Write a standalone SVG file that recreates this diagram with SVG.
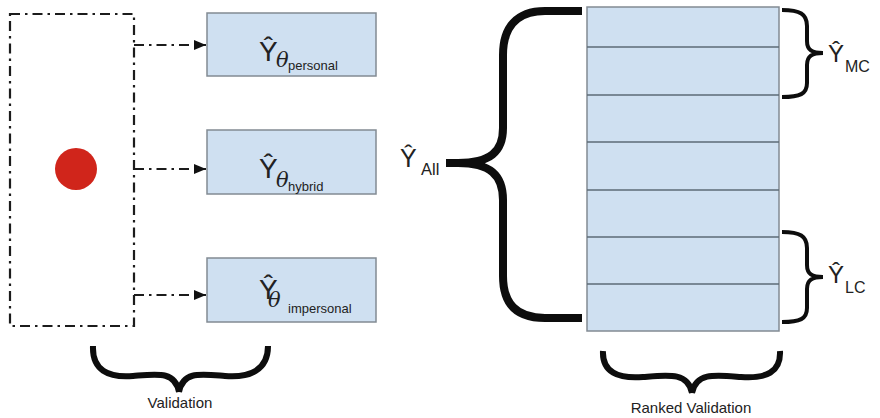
<svg xmlns="http://www.w3.org/2000/svg" width="880" height="418" viewBox="0 0 880 418">
  <style>
    .dashdot { fill: none; stroke: #1c1c1c; stroke-width: 2.2; stroke-dasharray: 10 5 2.5 5; }
    .box { fill: #cfe0f1; stroke: #828b93; stroke-width: 1.5; }
    .row { stroke: #5d6b76; stroke-width: 1.5; }
    .brace { fill: none; stroke: #0d0d0d; stroke-linecap: butt; stroke-linejoin: round; }
    .sans { font-family: "Liberation Sans", Arial, sans-serif; fill: #222; }
    .theta { font-family: "DejaVu Serif", "Liberation Serif", serif; font-style: italic; fill: #222; font-size: 21px; }
    .hat { font-size: 28px; }
    .sub { font-size: 13px; }
    .caption { font-size: 15px; }
  </style>
  <defs>
    <marker id="arrow" viewBox="0 0 12 10" refX="12" refY="5" markerWidth="12" markerHeight="10" markerUnits="userSpaceOnUse" orient="auto">
      <path d="M0,0 L12,5 L0,10 Z" fill="#111"/>
    </marker>
  </defs>

  <rect width="880" height="418" fill="#ffffff"/>

  <!-- validation pool -->
  <g id="pool">
    <rect class="dashdot" x="10" y="14" width="124" height="312"/>
    <circle cx="76" cy="169" r="21" fill="#d0251b"/>
  </g>

  <!-- connectors -->
  <g id="connectors">
    <line class="dashdot" x1="134" y1="45" x2="206" y2="45" marker-end="url(#arrow)"/>
    <line class="dashdot" x1="134" y1="169" x2="206" y2="169" marker-end="url(#arrow)"/>
    <line class="dashdot" x1="134" y1="295" x2="206" y2="295" marker-end="url(#arrow)"/>
  </g>

  <!-- prediction boxes -->
  <g id="personal">
    <rect class="box" x="207" y="13" width="169" height="63"/>
    <text class="sans hat" x="259" y="61">Ŷ</text>
    <text class="theta" x="276" y="67">θ</text>
    <text class="sans sub" x="288" y="70">personal</text>
  </g>
  <g id="hybrid">
    <rect class="box" x="207" y="130" width="169" height="64"/>
    <text class="sans hat" x="259" y="178">Ŷ</text>
    <text class="theta" x="276" y="187">θ</text>
    <text class="sans sub" x="288" y="191">hybrid</text>
  </g>
  <g id="impersonal">
    <rect class="box" x="207" y="258" width="169" height="64"/>
    <text class="sans hat" x="259" y="299">Ŷ</text>
    <text class="theta" x="268" y="307">θ</text>
    <text class="sans sub" x="288" y="313">impersonal</text>
  </g>

  <!-- brace under the pool -->
  <g id="validation">
    <path class="brace" stroke-width="6" d="M93,346 C92,370 108,378 133,376 C158,374 175,371 179,392 M179,392 C183,371 200,374 225,376 C250,378 268,370 268,346"/>
    <text class="sans caption" x="180" y="408" text-anchor="middle">Validation</text>
  </g>

  <!-- ranked stack -->
  <g id="ranked">
    <rect class="box" x="587" y="7" width="192" height="324"/>
    <line class="row" x1="587" y1="47" x2="779" y2="47"/>
    <line class="row" x1="587" y1="95" x2="779" y2="95"/>
    <line class="row" x1="587" y1="142" x2="779" y2="142"/>
    <line class="row" x1="587" y1="190" x2="779" y2="190"/>
    <line class="row" x1="587" y1="237" x2="779" y2="237"/>
    <line class="row" x1="587" y1="284" x2="779" y2="284"/>
  </g>

  <!-- brace over the whole stack -->
  <g id="all">
    <path class="brace" stroke-width="8" d="M582,11 H545 C516,11 503,28 503,55 V128 C503,152 490,163 458,163 H446 M446,163 H458 C490,163 503,175 503,200 V276 C503,303 516,318 545,318 H582"/>
    <text class="sans" x="400" y="167" font-size="25">Ŷ</text>
    <text class="sans" x="421" y="175" font-size="16.5">All</text>
  </g>

  <!-- most confident -->
  <g id="mc">
    <path class="brace" stroke-width="4" d="M782,10 C800,10 807,14 807,26 V41 C807,50 812,53 823,53 M823,53 C812,53 807,56 807,65 V83 C807,94 800,97 782,97"/>
    <text class="sans" x="828" y="62" font-size="24">Ŷ</text>
    <text class="sans" x="845" y="72" font-size="16">MC</text>
  </g>

  <!-- least confident -->
  <g id="lc">
    <path class="brace" stroke-width="4" d="M782,232 C800,232 807,236 807,248 V265 C807,274 812,277 823,277 M823,277 C812,277 807,280 807,289 V308 C807,319 800,322 782,322"/>
    <text class="sans" x="828" y="283" font-size="24">Ŷ</text>
    <text class="sans" x="845" y="293" font-size="16">LC</text>
  </g>

  <!-- brace under the stack -->
  <g id="ranked-validation">
    <path class="brace" stroke-width="6" d="M603,351 C602,372 618,379 643,377 C668,375 688,372 692,393 M692,393 C696,372 716,375 741,377 C766,379 781,372 780,351"/>
    <text class="sans caption" x="691" y="413" text-anchor="middle">Ranked Validation</text>
  </g>
</svg>
